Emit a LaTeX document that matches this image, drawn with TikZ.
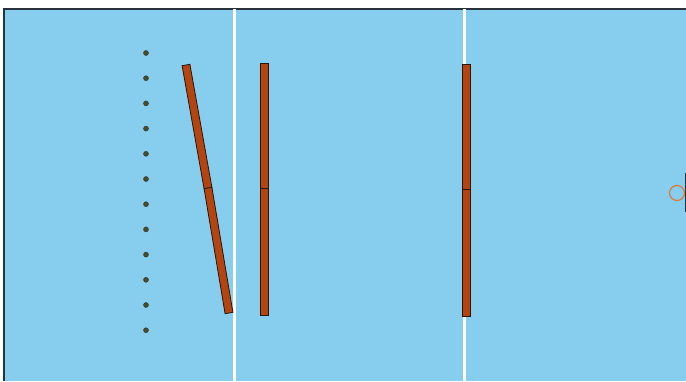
\documentclass[tikz,border=0pt]{standalone}
\definecolor{courtblue}{RGB}{135,206,238}
\definecolor{edgegray}{RGB}{40,50,60}
\definecolor{rust}{RGB}{180,68,16}
\definecolor{rustedge}{RGB}{40,20,10}
\definecolor{dotfill}{RGB}{75,75,45}
\definecolor{dotedge}{RGB}{50,50,30}
\definecolor{ringorange}{RGB}{225,120,50}
\begin{document}
\begin{tikzpicture}[x=1pt,y=-1pt,
  court/.style={fill=courtblue},
  courtline/.style={draw=white,line width=3pt},
  bar/.style={fill=rust,draw=rustedge,line width=0.8pt},
  dot/.style={circle,fill=dotfill,draw=dotedge,inner sep=0pt,minimum size=5pt},
  ring/.style={circle,draw=ringorange,line width=1.2pt,inner sep=0pt,minimum size=15pt}]
\useasboundingbox (0,0) rectangle (686,381);
\fill[white] (0,0) rectangle (686,381);
\fill[court] (4,9) rectangle (686,381);
\draw[line width=1.3pt,edgegray] (4,381) -- (4,9) -- (686,9);
% court lines
\coordinate (l1t) at (234,9); \coordinate (l1b) at (234,381);
\coordinate (l2t) at (464,9); \coordinate (l2b) at (464,381);
\draw[courtline] (l1t) -- (l1b);
\draw[courtline] (l2t) -- (l2b);
% dots
\foreach \i in {0,...,11} {
  \node[dot] (d\i) at (146,{53+25.2*\i}) {};
}
% tilted bars
\draw[bar] (189.9,64.3) -- (182.1,65.7) -- (204.1,188.7) -- (211.9,187.3) -- cycle;
\draw[bar] (211.9,187.3) -- (204.1,188.7) -- (225.1,313.7) -- (232.9,312.3) -- cycle;
% vertical bars
\draw[bar] (260,63) rectangle (268,188);
\draw[bar] (260,188) rectangle (268,315);
\draw[bar] (462,64) rectangle (470,189);
\draw[bar] (462,189) rectangle (470,316);
% goal ring and post
\node[ring] (r) at (677,193) {};
\draw[line width=1.2pt,edgegray] (685.5,173) -- (685.5,212);
\end{tikzpicture}
\end{document}
